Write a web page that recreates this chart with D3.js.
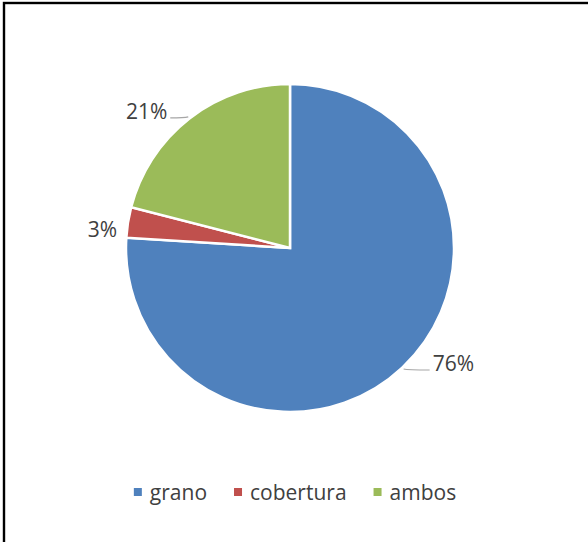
<!DOCTYPE html>
<html>
<head>
<meta charset="utf-8">
<script src="https://cdn.jsdelivr.net/npm/d3@7"></script>
<style>
  html, body { margin: 0; padding: 0; background: #fff; }
  svg { display: block; }
</style>
</head>
<body>
<script>
// Share of each category (percent)
const categories = ["grano", "cobertura", "ambos"];
const values = [76, 3, 21];
const colors = ["#4F81BD", "#C0504D", "#9BBB59"];

const width = 588, height = 542;
const cx = 290, cy = 248, radius = 164;
const font = "'Open Sans', 'Liberation Sans', sans-serif";
const textColor = "#404040";

// label layout: horizontal leader length and vertical nudge per slice
const leader = { grano: 26, cobertura: 6, ambos: 18 };
const nudge = { grano: -6, cobertura: 7, ambos: -6 };

const svg = d3.select("body").append("svg")
  .attr("width", width).attr("height", height);

// frame (only the top and left edges fall inside the view)
svg.append("rect")
  .attr("x", 4).attr("y", 3)
  .attr("width", width + 10).attr("height", height + 10)
  .attr("fill", "none").attr("stroke", "#000").attr("stroke-width", 2.4);

const data = categories.map((c, i) => ({ name: c, value: values[i], color: colors[i] }));

const pie = d3.pie().sort(null).value(d => d.value);
const arcs = pie(data);
const arc = d3.arc().innerRadius(0).outerRadius(radius);

const g = svg.append("g").attr("transform", `translate(${cx},${cy})`);

g.selectAll("path.slice").data(arcs).enter().append("path")
  .attr("class", "slice")
  .attr("d", arc)
  .attr("fill", d => d.data.color)
  .attr("stroke", "#fff")
  .attr("stroke-width", 2.5)
  .attr("stroke-linejoin", "miter");

// data labels with leader lines
const fmt = d => d3.format(".0f")(d.data.value) + "%";
arcs.forEach(d => {
  const mid = (d.startAngle + d.endAngle) / 2;
  const ex = Math.sin(mid) * (radius + 2);
  const ey = -Math.cos(mid) * (radius + 2);
  const side = ex >= 0 ? 1 : -1;
  const len = leader[d.data.name];
  const lx = ex + side * len;
  if (len > 12) {
    g.append("path")
      .attr("d", `M${ex},${ey} Q${ex + side * 4},${ey + 1} ${lx},${ey + 1}`)
      .attr("fill", "none")
      .attr("stroke", "#a6a6a6")
      .attr("stroke-width", 1.2);
  }
  g.append("text")
    .attr("x", lx + side * 3)
    .attr("y", ey + nudge[d.data.name])
    .attr("text-anchor", side > 0 ? "start" : "end")
    .attr("dominant-baseline", "central")
    .attr("font-family", font)
    .attr("font-size", 21)
    .attr("fill", textColor)
    .text(fmt(d));
});

// legend
const legend = svg.append("g");
const items = legend.selectAll("g").data(data).enter().append("g");
items.append("rect")
  .attr("width", 8).attr("height", 8)
  .attr("y", -4)
  .attr("fill", d => d.color);
items.append("text")
  .attr("x", 16)
  .attr("dominant-baseline", "central")
  .attr("font-family", font)
  .attr("font-size", 21)
  .attr("fill", textColor)
  .text(d => d.name);

let xoff = 0;
items.each(function () {
  const w = this.getBBox().width;
  d3.select(this).attr("transform", `translate(${xoff},0)`);
  xoff += w + 27;
});
const total = xoff - 27;
legend.attr("transform", `translate(${295 - total / 2},${492})`);
</script>
</body>
</html>
